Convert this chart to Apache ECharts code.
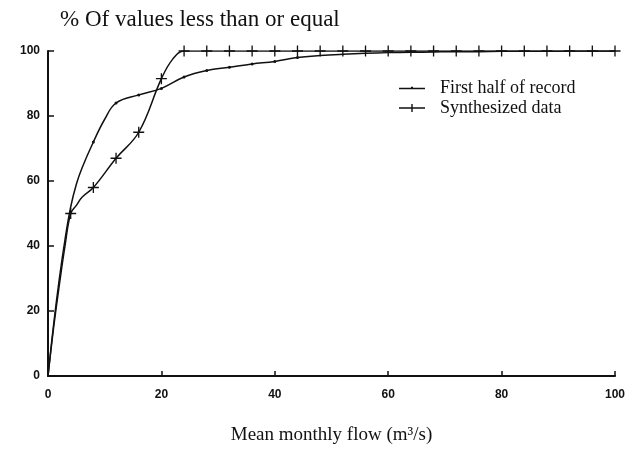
<!DOCTYPE html>
<html><head><meta charset="utf-8">
<script src="https://cdn.jsdelivr.net/npm/echarts@6/dist/echarts.min.js"></script>
<style>html,body{margin:0;padding:0;background:#fff}#c{width:636px;height:474px}</style>
</head><body><div id="c"></div>
<script>
const firstHalfX = [0, 1, 2, 3, 4, 5, 6, 8, 10, 12, 16, 20, 24, 28, 32, 36, 40, 44, 48, 52, 56, 60, 64, 68, 72, 76, 80, 84, 88, 92, 96, 100];
const firstHalfY = [0, 16, 30, 42, 52, 59, 64, 72, 79, 84, 86.5, 88.5, 92, 94, 95, 96, 96.8, 98, 98.6, 99, 99.3, 99.5, 99.6, 99.7, 99.8, 99.8, 99.9, 99.9, 99.9, 100, 100, 100];
const synthX = [0, 1, 2, 3, 4, 5, 6, 8, 12, 16, 20, 22, 24, 28, 32, 36, 40, 44, 48, 52, 56, 60, 64, 68, 72, 76, 80, 84, 88, 92, 96, 100];
const synthY = [0, 15, 28, 40, 50, 52.5, 55, 58, 67, 75, 91.5, 97.5, 100, 100, 100, 100, 100, 100, 100, 100, 100, 100, 100, 100, 100, 100, 100, 100, 100, 100, 100, 100];
const firstMarkX = [8, 12, 16, 20, 24, 28, 32, 36, 40, 44];
const xTicks = [0, 20, 40, 60, 80, 100];
const yTicks = [0, 20, 40, 60, 80, 100];

const plus = 'path://M4.4 0 L5.6 0 L5.6 4.4 L10 4.4 L10 5.6 L5.6 5.6 L5.6 10 L4.4 10 L4.4 5.6 L0 5.6 L0 4.4 L4.4 4.4 Z';

const chart = echarts.init(document.getElementById('c'), null, {renderer: 'canvas'});
const fhData = firstHalfX.map((x, i) => ({
  value: [x, firstHalfY[i]],
  symbolSize: firstMarkX.includes(x) ? 3 : 0
}));
const syData = synthX.map((x, i) => ({
  value: [x, synthY[i]],
  symbolSize: (x >= 4 && x % 4 === 0) ? 11 : 0
}));
chart.setOption({
  animation: false,
  backgroundColor: '#fff',
  title: {
    text: '% Of values less than or equal',
    left: 55, top: 3,
    textStyle: {fontFamily: 'Liberation Serif', fontSize: 23, fontWeight: 'normal', color: '#111'}
  },
  legend: {
    left: 394, top: 74, orient: 'vertical', itemGap: 2, itemWidth: 26, itemHeight: 12,
    textStyle: {fontFamily: 'Liberation Serif', fontSize: 18, color: '#111', padding: [0, 0, 0, 10]},
    data: [
      {name: 'First half of record', icon: 'path://M0 5.3 L26 5.3 L26 6.7 L0 6.7 Z M12 4.3 L14 4.3 L14 6.7 L12 6.7 Z'},
      {name: 'Synthesized data', icon: 'path://M0 5.3 L26 5.3 L26 6.7 L0 6.7 Z M12.3 2 L13.7 2 L13.7 10 L12.3 10 Z'}
    ]
  },
  grid: {left: 48, right: 21, top: 51, bottom: 98, containLabel: false},
  xAxis: {
    type: 'value', min: 0, max: 100, interval: 20,
    name: 'Mean monthly flow (m³/s)', nameLocation: 'middle', nameGap: 50,
    nameTextStyle: {fontFamily: 'Liberation Serif', fontSize: 19, color: '#111'},
    axisLine: {lineStyle: {color: '#111', width: 2}},
    axisTick: {inside: true, length: 5, lineStyle: {color: '#111', width: 1.5}},
    axisLabel: {fontFamily: 'Liberation Sans', fontWeight: 'bold', fontSize: 12, color: '#111', margin: 13},
    splitLine: {show: false}
  },
  yAxis: {
    type: 'value', min: 0, max: 100, interval: 20,
    axisLine: {show: true, lineStyle: {color: '#111', width: 2}},
    axisTick: {show: true, inside: true, length: 6, lineStyle: {color: '#111', width: 1.5}},
    axisLabel: {fontFamily: 'Liberation Sans', fontWeight: 'bold', fontSize: 12, color: '#111', margin: 8},
    splitLine: {show: false}
  },
  series: [
    {
      name: 'First half of record', type: 'line', smooth: 0.4,
      data: fhData, symbol: 'circle',
      lineStyle: {color: '#111', width: 1.5},
      itemStyle: {color: '#111'}
    },
    {
      name: 'Synthesized data', type: 'line', smooth: 0.4,
      data: syData, symbol: plus,
      lineStyle: {color: '#111', width: 1.5},
      itemStyle: {color: '#111'}
    }
  ]
});
</script></body></html>
